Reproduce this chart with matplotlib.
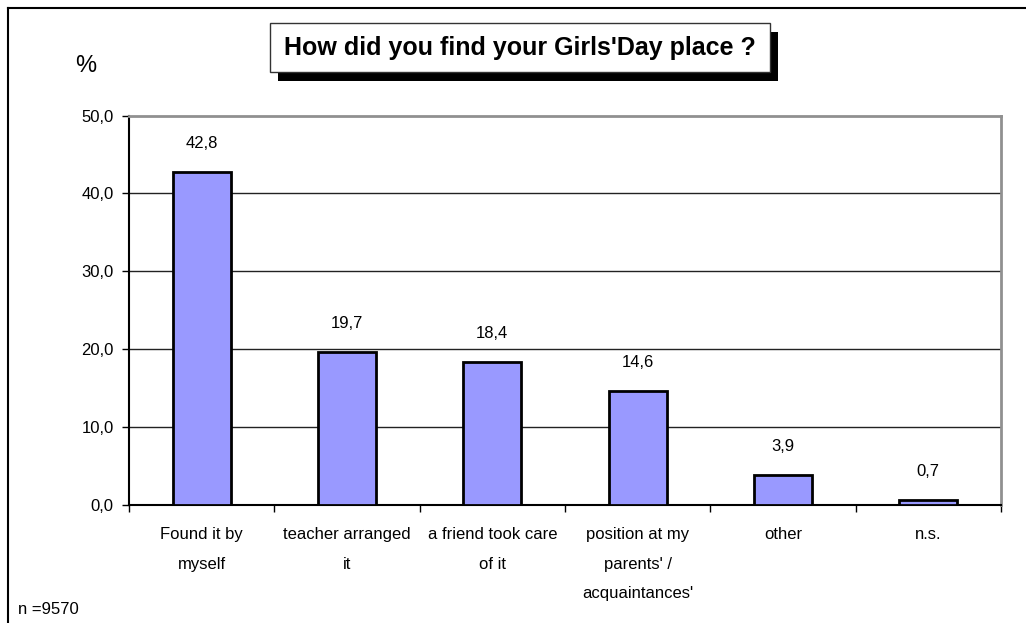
import numpy as np
import matplotlib.pyplot as plt
from matplotlib.patches import Rectangle

# ===== DATA =====
categories = ["Found it by\nmyself", "teacher arranged\nit", "a friend took care\nof it",
              "position at my\nparents' /\nacquaintances'", "other", "n.s."]
values = [42.8, 19.7, 18.4, 14.6, 3.9, 0.7]
y_ticks = [0, 10, 20, 30, 40, 50]

title = "How did you find your Girls'Day place ?"
note = "n =9570"

plt.rcParams['font.family'] = ['Liberation Sans', 'DejaVu Sans']

W, H = 1026, 623
fig = plt.figure(figsize=(W / 100, H / 100), dpi=100)

def fx(px):
    return px / W

def fy(py):
    return 1 - py / H

# outer frame (only left and top visible)
fig.add_artist(plt.Line2D([fx(8), fx(8)], [fy(8), 0], color='black', lw=1.5))
fig.add_artist(plt.Line2D([fx(8), 1], [fy(8), fy(8)], color='black', lw=1.5))

ax = fig.add_axes([fx(129), fy(505), fx(1001) - fx(129), fy(115.5) - fy(505)])

x = np.arange(len(categories))
ax.bar(x, values, width=0.4, color='#9999FF', edgecolor='black', linewidth=2, zorder=3)

for xi, v in zip(x, values):
    ax.annotate(f"{v:.1f}".replace('.', ','), (xi, v), xytext=(0, 15),
                textcoords='offset points', ha='center', va='bottom', fontsize=12)

ax.set_xlim(-0.5, len(categories) - 0.5)
ax.set_ylim(0, 50)
ax.set_yticks(y_ticks)
ax.set_yticklabels([f"{t:.1f}".replace('.', ',') for t in y_ticks], fontsize=12)
ax.tick_params(axis='y', length=5, width=1, pad=6)

ax.set_xticks(np.arange(-0.5, len(categories), 1.0))
ax.set_xticklabels([])
ax.set_xticks(x, minor=True)
ax.set_xticklabels(categories, minor=True, fontsize=12, linespacing=2.2, va='top')
ax.tick_params(axis='x', which='major', length=5, width=1)
ax.tick_params(axis='x', which='minor', length=0, pad=16)

for t in y_ticks[1:-1]:
    ax.axhline(t, color='#222222', lw=1, zorder=1)

ax.spines['left'].set_color('black')
ax.spines['bottom'].set_color('black')
ax.spines['left'].set_linewidth(1.5)
ax.spines['bottom'].set_linewidth(1.5)
ax.spines['top'].set_color('#909090')
ax.spines['right'].set_color('#909090')
ax.spines['top'].set_linewidth(2)
ax.spines['right'].set_linewidth(2)

# title box with shadow
bx0, by0, bx1, by1 = 270, 23, 770, 72
fig.add_artist(Rectangle((fx(bx0 + 8), fy(by1 + 9)), fx(bx1 - bx0), fy(by0) - fy(by1),
                         facecolor='black', edgecolor='none'))
fig.add_artist(Rectangle((fx(bx0), fy(by1)), fx(bx1 - bx0), fy(by0) - fy(by1),
                         facecolor='white', edgecolor='#333333', lw=1))
fig.text(fx((bx0 + bx1) / 2), fy((by0 + by1) / 2), title, ha='center', va='center',
         fontsize=18, fontweight='bold')

fig.text(fx(86), fy(66), "%", ha='center', va='center', fontsize=17)
fig.text(fx(18), fy(609), note, ha='left', va='center', fontsize=12)

fig.savefig("out.png", dpi=100)
